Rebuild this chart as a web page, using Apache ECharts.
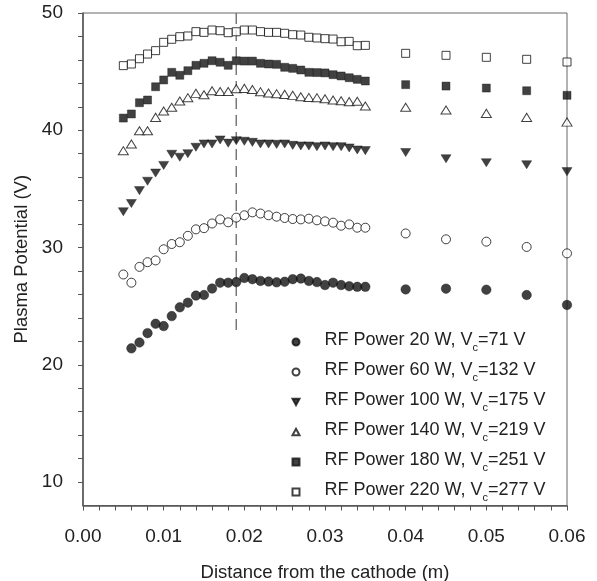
<!DOCTYPE html>
<html>
<head>
<meta charset="utf-8">
<script src="https://cdn.jsdelivr.net/npm/echarts@6/dist/echarts.min.js"></script>
<style>html,body{margin:0;padding:0;background:#fff}#c{width:597px;height:581px}</style>
</head>
<body>
<div id="c"></div>
<script>
// Distance from the cathode (m)
const xValues = [0.005,0.006,0.007,0.008,0.009,0.010,0.011,0.012,0.013,0.014,0.015,0.016,0.017,0.018,0.019,0.020,
  0.021,0.022,0.023,0.024,0.025,0.026,0.027,0.028,0.029,0.030,0.031,0.032,0.033,0.034,0.035,
  0.040,0.045,0.050,0.055,0.060];
// Plasma potential (V)
const p20 = [null,21.4,21.9,22.7,23.5,23.3,24.15,24.9,25.3,25.9,25.95,26.5,27.0,27.0,27.05,27.4,
  27.3,27.15,27.1,27.03,27.08,27.3,27.35,27.15,27.05,26.8,27.0,26.8,26.7,26.65,26.65,
  26.43,26.49,26.4,25.95,25.1];
const p60 = [27.7,27.0,28.35,28.75,28.9,29.85,30.3,30.45,31.0,31.55,31.65,32.05,32.4,32.15,32.55,32.75,
  33.0,32.9,32.75,32.63,32.52,32.43,32.4,32.46,32.32,32.23,32.12,31.86,31.97,31.69,31.69,
  31.2,30.7,30.5,30.05,29.5];
const p100 = [33.05,33.75,34.85,35.65,36.35,37.0,37.95,37.7,38.0,38.55,38.83,38.83,39.17,38.9,39.11,39.06,
  38.97,38.83,38.83,38.8,38.83,38.71,38.66,38.66,38.6,38.66,38.6,38.6,38.49,38.32,38.26,
  38.1,37.57,37.23,37.06,36.47];
const p140 = [38.26,38.83,39.96,39.96,41.1,41.64,41.96,42.5,42.78,43.15,43.03,43.37,43.31,43.31,43.54,43.57,
  43.48,43.29,43.18,43.12,43.06,42.98,42.86,42.8,42.78,42.69,42.58,42.52,42.44,42.47,42.07,
  41.96,41.73,41.44,41.1,40.7];
const p180 = [41.04,41.39,42.35,42.58,43.71,44.29,44.94,44.69,45.08,45.54,45.71,45.93,45.8,45.54,45.93,45.9,
  45.9,45.71,45.65,45.62,45.37,45.28,45.14,44.94,44.92,44.89,44.74,44.63,44.48,44.34,44.2,
  43.89,43.77,43.6,43.37,42.98];
const p220 = [45.51,45.65,46.1,46.5,46.79,47.5,47.76,47.98,48.04,48.41,48.35,48.55,48.49,48.32,48.4,48.55,
  48.55,48.41,48.35,48.35,48.27,48.15,48.12,47.93,47.87,47.81,47.78,47.55,47.58,47.21,47.24,
  46.56,46.39,46.22,46.05,45.82];
const rfPower = [20, 60, 100, 140, 180, 220];
const vc = [71, 132, 175, 219, 251, 277];
const xTickLabels = [0, 0.01, 0.02, 0.03, 0.04, 0.05, 0.06];
const yTickLabels = [10, 20, 30, 40, 50];
const yMinorTicks = [10,12,14,16,18,20,22,24,26,28,30,32,34,36,38,40,42,44,46,48,50];
// Dashed reference line
const dashX = [0.019, 0.019];
const dashY = [50, 22.8];

const FONT = '"Liberation Sans", Arial, sans-serif';
const INK = '#111';
const TRI_DOWN = 'path://M0,0L10,0L5,9Z';
const TRI_UP = 'path://M5,0L10,9L0,9Z';
const seriesVals = [p20, p60, p100, p140, p180, p220];
const styles = [
  {symbol:'circle', size:9.5, filled:true},
  {symbol:'circle', size:9, filled:false},
  {symbol:TRI_DOWN, size:[10,9], filled:true},
  {symbol:TRI_UP, size:[10,9], filled:false},
  {symbol:'rect', size:8, filled:true},
  {symbol:'rect', size:8, filled:false}
];
const names = rfPower.map((p,i)=>'RF Power '+p+' W, V_c='+vc[i]+' V');

const series = seriesVals.map((vals, i) => {
  const st = styles[i];
  return {
    type: 'scatter',
    name: names[i],
    data: xValues.map((x, j) => vals[j] == null ? null : [x, vals[j]]).filter(d => d),
    symbol: st.symbol,
    symbolSize: st.size,
    symbolKeepAspect: true,
    itemStyle: st.filled ? {color: INK, borderColor: INK, borderWidth: 0.5}
                         : {color: '#fff', borderColor: INK, borderWidth: 1},
    emphasis: {disabled: true},
    z: 3
  };
});
series.push({
  type: 'line',
  data: dashX.map((x, i) => [x, dashY[i]]),
  symbol: 'none',
  lineStyle: {color: '#777', width: 1.5, type: [11, 6]},
  z: 1,
  silent: true
});

const chart = echarts.init(document.getElementById('c'), null, {renderer: 'canvas'});
chart.setOption({
  animation: false,
  backgroundColor: '#fff',
  grid: {left: 83, right: 30, top: 13, bottom: 75.5, containLabel: false, outerBoundsMode: 'none',
    show: true, borderColor: '#666', borderWidth: 1},
  xAxis: {
    type: 'value', min: 0, max: 0.06, interval: 0.01,
    name: 'Distance from the cathode (m)', nameLocation: 'middle', nameGap: 58,
    nameTextStyle: {fontFamily: FONT, fontSize: 18.5, color: '#222'},
    axisLine: {lineStyle: {color: '#555', width: 1.5}},
    axisTick: {length: 5, lineStyle: {color: '#555'}},
    minorTick: {show: true, splitNumber: 5, length: 5, lineStyle: {color: '#555'}},
    splitLine: {show: false},
    axisLabel: {fontFamily: FONT, fontSize: 19, color: '#222', margin: 22,
      formatter: v => v.toFixed(2)}
  },
  yAxis: {
    type: 'value', min: 8, max: 50,
    name: 'Plasma Potential (V)', nameLocation: 'middle', nameGap: 46,
    nameTextStyle: {fontFamily: FONT, fontSize: 18.5, color: '#222'},
    axisLine: {lineStyle: {color: '#555', width: 1.5}},
    axisTick: {length: 5, lineStyle: {color: '#555'}, customValues: yMinorTicks},
    splitLine: {show: false},
    axisLabel: {fontFamily: FONT, fontSize: 19, color: '#222', margin: 20, customValues: yTickLabels}
  },
  legend: {
    orient: 'vertical', left: 286.5, top: 326,
    itemWidth: 7, itemHeight: 7, itemGap: 8,
    symbolKeepAspect: true,
    selectedMode: false,
    data: names,
    formatter: n => {
      const parts = n.split('V_c');
      return '{f|' + parts[0] + 'V}{s|c}{t|' + parts[1] + '}';
    },
    textStyle: {
      fontFamily: FONT, fontSize: 18, color: '#222',
      rich: {
        f: {fontFamily: FONT, fontSize: 18, color: '#222', verticalAlign: 'bottom', padding: [0,0,4,20], lineHeight: 22},
        t: {fontFamily: FONT, fontSize: 18, color: '#222', verticalAlign: 'bottom', padding: [0,0,4,0], lineHeight: 22},
        s: {fontFamily: FONT, fontSize: 11, color: '#222', verticalAlign: 'bottom', lineHeight: 22}
      }
    }
  },
  series: series
});
</script>
</body>
</html>
